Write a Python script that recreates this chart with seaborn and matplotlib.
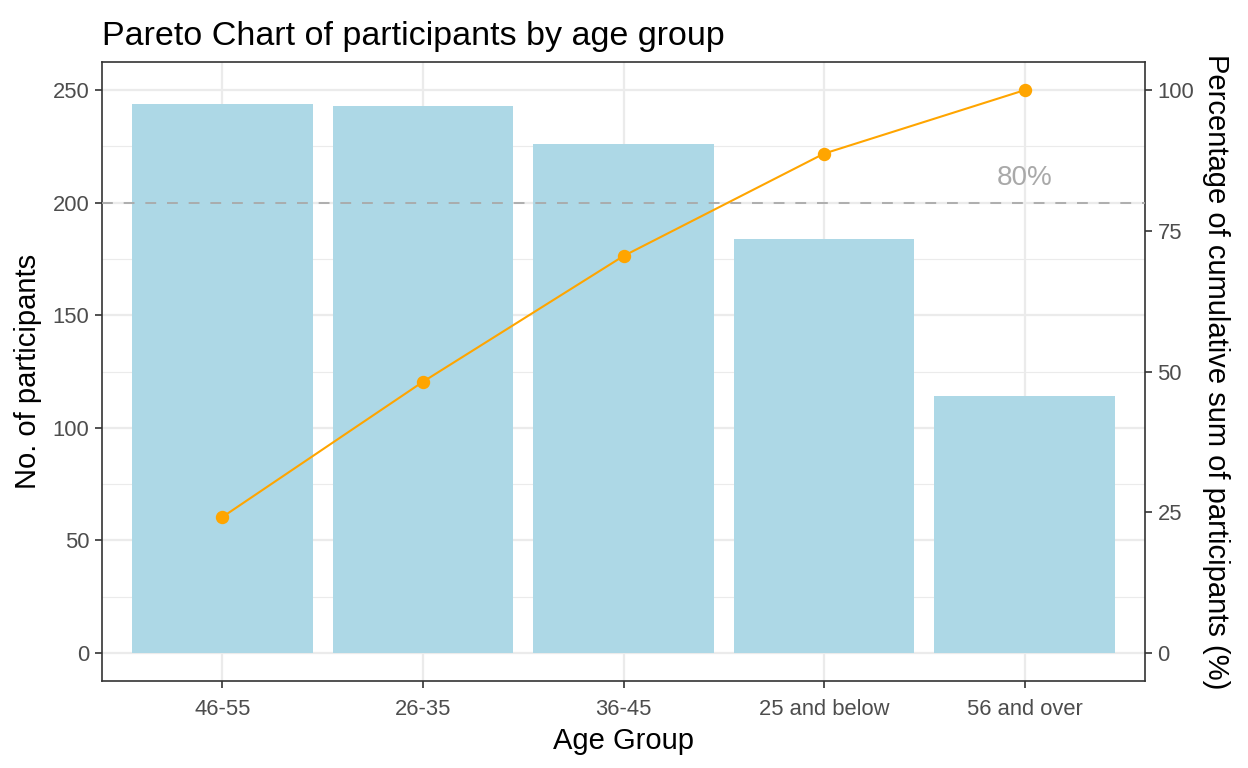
import numpy as np
import pandas as pd
import seaborn as sns
import matplotlib.pyplot as plt

# data
age_groups = ['46-55', '26-35', '36-45', '25 and below', '56 and over']
participants = [244, 243, 226, 184, 114]

counts = np.array(participants)
cum_pct = counts.cumsum() / counts.sum() * 100
scale = 2.5  # 100% drawn at 250 on the left axis

df = pd.DataFrame({'age': age_groups, 'n': participants, 'cum': cum_pct * scale})

sns.set_style('white')
plt.rcParams['font.family'] = ['Liberation Sans', 'DejaVu Sans']

fig = plt.figure(figsize=(12.48, 7.68), dpi=100)
ax = fig.add_axes([102 / 1248, 1 - 681 / 768, (1145 - 102) / 1248, (681 - 62) / 768])

# grid like ggplot theme_bw
for yv in np.arange(0, 251, 50):
    ax.axhline(yv, color='#EBEBEB', lw=1.6, zorder=0)
for yv in np.arange(25, 251, 50):
    ax.axhline(yv, color='#EBEBEB', lw=0.8, zorder=0)
for xv in range(len(age_groups)):
    ax.axvline(xv, color='#EBEBEB', lw=1.6, zorder=0)

sns.barplot(data=df, x='age', y='n', order=age_groups, color='#ADD8E6',
            saturation=1, width=0.9, edgecolor='none', linewidth=0, ax=ax, zorder=2)
ax.axhline(200, color='#A9A9A9', ls=(0, (6, 6)), lw=1.3, zorder=3)
sns.pointplot(data=df, x='age', y='cum', order=age_groups, color='#FFA500',
              markers='o', markersize=8.5, linewidth=1.5, ax=ax, zorder=4)
ax.text(4, 211, '80%', color='#A9A9A9', fontsize=20, ha='center', va='center')

ax.set_xlim(-0.6, 4.6)
ax.set_ylim(-12.5, 262.5)
ax.set_yticks([0, 50, 100, 150, 200, 250])

ax.set_title('Pareto Chart of participants by age group', loc='left', fontsize=24.5,
             color='black', x=0.0, y=1.0, pad=12)
ax.set_xlabel('Age Group', fontsize=21, color='black', labelpad=5)
ax.set_ylabel('No. of participants', fontsize=21, color='black', labelpad=8)

sec = ax.secondary_yaxis('right', functions=(lambda y: y / scale, lambda p: p * scale))
sec.set_yticks([0, 25, 50, 75, 100])
sec.set_ylabel('Percentage of cumulative sum of participants (%)', fontsize=21,
               color='black', rotation=-90, labelpad=26)

for a in (ax, sec):
    a.tick_params(axis='both', labelsize=15.8, labelcolor='#4D4D4D', color='#333333',
                  length=5, width=1.2, direction='out', pad=4)
ax.tick_params(axis='x', pad=8)
ax.tick_params(left=True, bottom=True)
sec.tick_params(right=True)
for sp in ax.spines.values():
    sp.set_color('#333333')
    sp.set_linewidth(1.2)
sec.spines['right'].set_visible(False)

fig.savefig('out.png', dpi=100)
